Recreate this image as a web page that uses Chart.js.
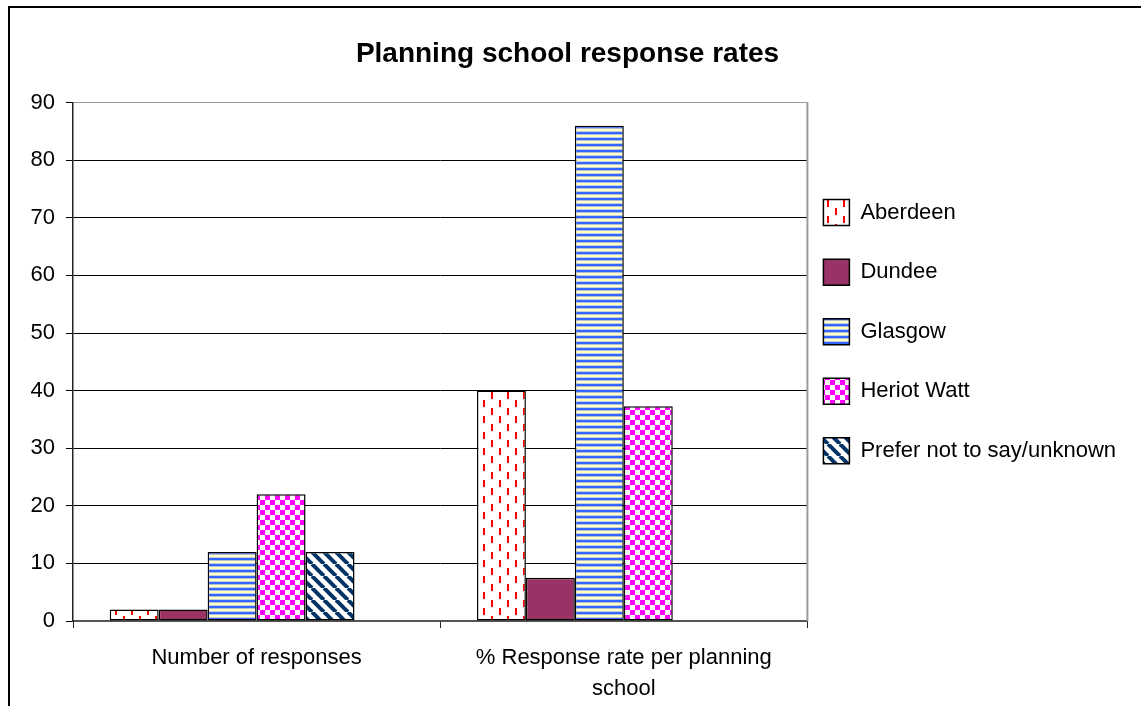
<!DOCTYPE html>
<html>
<head>
<meta charset="utf-8">
<title>Planning school response rates</title>
<script src="https://cdn.jsdelivr.net/npm/chart.js@4.4.1/dist/chart.umd.min.js"></script>
<style>
  html, body { margin: 0; padding: 0; background: #fff; overflow: hidden; }
  #frame { position: absolute; left: 8px; top: 6px; width: 1200px; height: 800px; border: 2px solid #000; }
  #chart { position: absolute; left: 0; top: 0; }
</style>
</head>
<body>
<div id="frame"></div>
<canvas id="chart" width="1141" height="706"></canvas>
<script>
// Chart data
const categories = ['Number of responses', ['% Response rate per planning', 'school']]
const schools = ['Aberdeen', 'Dundee', 'Glasgow', 'Heriot Watt', 'Prefer not to say/unknown']
const aberdeen = [2, 40]
const dundee = [2, 7.5]
const glasgow = [12, 86]
const heriotWatt = [22, 37.3]
const preferNotToSay = [12, null]
// Excel left an empty sixth slot in each group
const emptySlot = [null, null]
const yTicks = [0, 10, 20, 30, 40, 50, 60, 70, 80, 90]

Chart.defaults.font.family = '"Liberation Sans", Arial, sans-serif'
Chart.defaults.color = '#000'

function makePattern(w, h, paint) {
  const c = document.createElement('canvas')
  c.width = w
  c.height = h
  const g = c.getContext('2d')
  g.fillStyle = '#fff'
  g.fillRect(0, 0, w, h)
  paint(g)
  return g.createPattern(c, 'repeat')
}

// Red dashes on white
const dashPattern = makePattern(16, 16, g => {
  g.fillStyle = '#ff0000'
  g.fillRect(3, 0, 2, 7)
  g.fillRect(11, 8, 2, 7)
})

// Blue / pale yellow stripes
const stripePattern = makePattern(6, 6, g => {
  g.fillStyle = '#3366ff'
  g.fillRect(0, 0, 6, 2)
  g.fillStyle = '#b4bcd8'
  g.fillRect(0, 2, 6, 1)
  g.fillStyle = '#ffffc8'
  g.fillRect(0, 3, 6, 2)
  g.fillStyle = '#c8cce0'
  g.fillRect(0, 5, 6, 1)
})

// Magenta checkerboard
const checkPattern = makePattern(10, 10, g => {
  g.fillStyle = '#ff00ff'
  g.fillRect(0, 0, 5, 5)
  g.fillRect(5, 5, 5, 5)
})

// Navy diagonal lines
const diagPattern = makePattern(12, 12, g => {
  g.strokeStyle = '#003366'
  g.lineWidth = 4
  for (const k of [-12, 0, 12]) {
    g.beginPath()
    g.moveTo(k, 0)
    g.lineTo(k + 12, 12)
    g.stroke()
  }
})

const fills = [dashPattern, '#993366', stripePattern, checkPattern, diagPattern]
const series = [aberdeen, dundee, glasgow, heriotWatt, preferNotToSay]

const datasets = series.map((values, i) => ({
  label: schools[i],
  data: values,
  backgroundColor: fills[i],
  borderColor: '#000',
  borderWidth: 1.5,
  borderSkipped: false
}))
datasets.push({ label: '', data: emptySlot, backgroundColor: 'transparent', borderWidth: 0 })

const plotFrame = {
  id: 'plotFrame',
  beforeDatasetsDraw(chart) {
    const { ctx, chartArea: a } = chart
    ctx.save()
    ctx.strokeStyle = '#999'
    ctx.lineWidth = 2
    ctx.beginPath()
    ctx.moveTo(a.right, a.top)
    ctx.lineTo(a.right, a.bottom)
    ctx.stroke()
    ctx.restore()
  }
}

const defaultLabels = Chart.defaults.plugins.legend.labels.generateLabels

new Chart(document.getElementById('chart').getContext('2d'), {
  type: 'bar',
  data: { labels: categories, datasets: datasets },
  plugins: [plotFrame],
  options: {
    responsive: false,
    animation: false,
    layout: { padding: { left: 9, right: 15, top: 0, bottom: 0 } },
    datasets: {
      bar: { categoryPercentage: 0.8, barPercentage: 1.0 }
    },
    plugins: {
      tooltip: { enabled: false },
      title: {
        display: true,
        text: 'Planning school response rates',
        color: '#000',
        font: { size: 28, weight: 'bold', lineHeight: 1.2 },
        padding: { top: 37, bottom: 32 }
      },
      legend: {
        position: 'right',
        align: 'start',
        fullSize: false,
        maxWidth: 420,
        title: {
          display: true,
          text: '',
          font: { size: 12, lineHeight: 1.2 },
          padding: { top: 66.6, bottom: 0 }
        },
        labels: {
          boxWidth: 26,
          boxHeight: 26,
          padding: 16,
          color: '#000',
          font: { size: 22, lineHeight: 1.98 },
          generateLabels(chart) {
            return defaultLabels(chart)
              .filter(item => item.datasetIndex < schools.length)
              .map(item => Object.assign(item, { text: [item.text] }))
          }
        }
      }
    },
    scales: {
      x: {
        offset: true,
        afterFit(scale) { scale.height = 85 },
        grid: {
          display: true,
          offset: true,
          drawOnChartArea: false,
          drawTicks: true,
          tickLength: 7,
          color: '#222',
          lineWidth: 1
        },
        border: { display: true, color: '#555', width: 2 },
        ticks: {
          color: '#000',
          padding: 15,
          maxRotation: 0,
          autoSkip: false,
          font: { size: 22, lineHeight: 1.4 }
        }
      },
      y: {
        min: yTicks[0],
        max: yTicks[yTicks.length - 1],
        afterFit(scale) { scale.width = 64 },
        afterBuildTicks(scale) { scale.ticks = yTicks.map(v => ({ value: v })) },
        grid: {
          color: c => (c.tick && c.tick.value === 90 ? '#999' : '#000'),
          tickColor: '#000',
          lineWidth: 1,
          tickLength: 7
        },
        border: { display: true, color: '#222', width: 1.5 },
        ticks: {
          color: '#000',
          padding: 11,
          font: { size: 22 }
        }
      }
    }
  }
})
</script>
</body>
</html>
